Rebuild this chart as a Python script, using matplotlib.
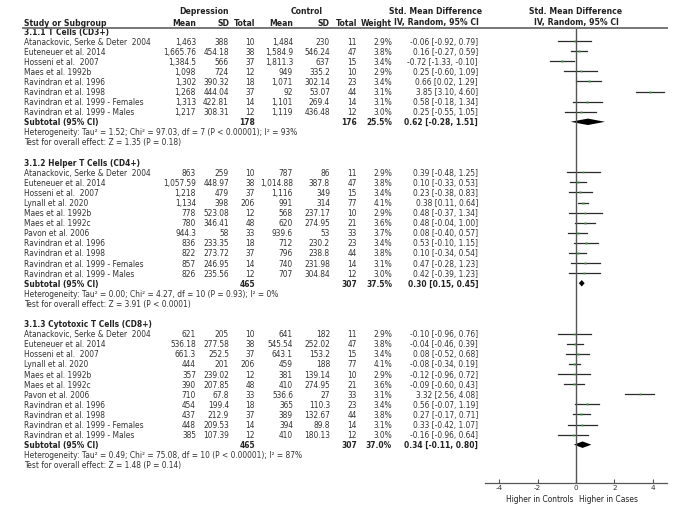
import numpy as np
import matplotlib.pyplot as plt
from matplotlib.transforms import blended_transform_factory
from matplotlib.lines import Line2D

plt.rcParams['font.family'] = ['DejaVu Sans']

# ---- data ----
groups = ["3.1.1 T Cells (CD3+)", "3.1.2 Helper T Cells (CD4+)", "3.1.3 Cytotoxic T Cells (CD8+)"]

studies1 = ["Atanackovic, Serke & Deter  2004", "Euteneuer et al. 2014", "Hosseni et al.  2007",
            "Maes et al. 1992b", "Ravindran et al. 1996", "Ravindran et al. 1998",
            "Ravindran et al. 1999 - Females", "Ravindran et al. 1999 - Males"]
dep_mean1 = ["1,463", "1,665.76", "1,384.5", "1,098", "1,302", "1,268", "1,313", "1,217"]
dep_sd1 = ["388", "454.18", "566", "724", "390.32", "444.04", "422.81", "308.31"]
dep_n1 = [10, 38, 37, 12, 18, 37, 14, 12]
ctl_mean1 = ["1,484", "1,584.9", "1,811.3", "949", "1,071", "92", "1,101", "1,119"]
ctl_sd1 = ["230", "546.24", "637", "335.2", "302.14", "53.07", "269.4", "436.48"]
ctl_n1 = [11, 47, 15, 10, 23, 44, 14, 12]
weight1 = [2.9, 3.8, 3.4, 2.9, 3.4, 3.1, 3.1, 3.0]
smd1 = [-0.06, 0.16, -0.72, 0.25, 0.66, 3.85, 0.58, 0.25]
lo1 = [-0.92, -0.27, -1.33, -0.60, 0.02, 3.10, -0.18, -0.55]
hi1 = [0.79, 0.59, -0.10, 1.09, 1.29, 4.60, 1.34, 1.05]

studies2 = ["Atanackovic, Serke & Deter  2004", "Euteneuer et al. 2014", "Hosseni et al.  2007",
            "Lynall et al. 2020", "Maes et al. 1992b", "Maes et al. 1992c", "Pavon et al. 2006",
            "Ravindran et al. 1996", "Ravindran et al. 1998",
            "Ravindran et al. 1999 - Females", "Ravindran et al. 1999 - Males"]
dep_mean2 = ["863", "1,057.59", "1,218", "1,134", "778", "780", "944.3", "836", "822", "857", "826"]
dep_sd2 = ["259", "448.97", "479", "398", "523.08", "346.41", "58", "233.35", "273.72", "246.95", "235.56"]
dep_n2 = [10, 38, 37, 206, 12, 48, 33, 18, 37, 14, 12]
ctl_mean2 = ["787", "1,014.88", "1,116", "991", "568", "620", "939.6", "712", "796", "740", "707"]
ctl_sd2 = ["86", "387.8", "349", "314", "237.17", "274.95", "53", "230.2", "238.8", "231.98", "304.84"]
ctl_n2 = [11, 47, 15, 77, 10, 21, 33, 23, 44, 14, 12]
weight2 = [2.9, 3.8, 3.4, 4.1, 2.9, 3.6, 3.7, 3.4, 3.8, 3.1, 3.0]
smd2 = [0.39, 0.10, 0.23, 0.38, 0.48, 0.48, 0.08, 0.53, 0.10, 0.47, 0.42]
lo2 = [-0.48, -0.33, -0.38, 0.11, -0.37, -0.04, -0.40, -0.10, -0.34, -0.28, -0.39]
hi2 = [1.25, 0.53, 0.83, 0.64, 1.34, 1.00, 0.57, 1.15, 0.54, 1.23, 1.23]

studies3 = studies2
dep_mean3 = ["621", "536.18", "661.3", "444", "357", "390", "710", "454", "437", "448", "385"]
dep_sd3 = ["205", "277.58", "252.5", "201", "239.02", "207.85", "67.8", "199.4", "212.9", "209.53", "107.39"]
dep_n3 = [10, 38, 37, 206, 12, 48, 33, 18, 37, 14, 12]
ctl_mean3 = ["641", "545.54", "643.1", "459", "381", "410", "536.6", "365", "389", "394", "410"]
ctl_sd3 = ["182", "252.02", "153.2", "188", "139.14", "274.95", "27", "110.3", "132.67", "89.8", "180.13"]
ctl_n3 = [11, 47, 15, 77, 10, 21, 33, 23, 44, 14, 12]
weight3 = [2.9, 3.8, 3.4, 4.1, 2.9, 3.6, 3.1, 3.4, 3.8, 3.1, 3.0]
smd3 = [-0.10, -0.04, 0.08, -0.08, -0.12, -0.09, 3.32, 0.56, 0.27, 0.33, -0.16]
lo3 = [-0.96, -0.46, -0.52, -0.34, -0.96, -0.60, 2.56, -0.07, -0.17, -0.42, -0.96]
hi3 = [0.76, 0.39, 0.68, 0.19, 0.72, 0.43, 4.08, 1.19, 0.71, 1.07, 0.64]

sub_dep_n = [178, 465, 465]
sub_ctl_n = [176, 307, 307]
sub_weight = [25.5, 37.5, 37.0]
sub_smd = [0.62, 0.30, 0.34]
sub_lo = [-0.28, 0.15, -0.11]
sub_hi = [1.51, 0.45, 0.80]
heterogeneity = ["Heterogeneity: Tau² = 1.52; Chi² = 97.03, df = 7 (P < 0.00001); I² = 93%",
                 "Heterogeneity: Tau² = 0.00; Chi² = 4.27, df = 10 (P = 0.93); I² = 0%",
                 "Heterogeneity: Tau² = 0.49; Chi² = 75.08, df = 10 (P < 0.00001); I² = 87%"]
overall = ["Test for overall effect: Z = 1.35 (P = 0.18)",
           "Test for overall effect: Z = 3.91 (P < 0.0001)",
           "Test for overall effect: Z = 1.48 (P = 0.14)"]
xticks = [-4, -2, 0, 2, 4]

tables = [
    (studies1, dep_mean1, dep_sd1, dep_n1, ctl_mean1, ctl_sd1, ctl_n1, weight1, smd1, lo1, hi1),
    (studies2, dep_mean2, dep_sd2, dep_n2, ctl_mean2, ctl_sd2, ctl_n2, weight2, smd2, lo2, hi2),
    (studies3, dep_mean3, dep_sd3, dep_n3, ctl_mean3, ctl_sd3, ctl_n3, weight3, smd3, lo3, hi3),
]

# ---- layout ----
W, H = 700, 510
fig = plt.figure(figsize=(7, 5.1), dpi=100)
pitch = 10.09
row0 = 32.0
top_px, bot_px = 29, 484
ax = fig.add_axes([485 / W, 1 - bot_px / H, (667 - 485) / W, (bot_px - top_px) / H])
ax.set_xlim(-4.74, 4.74)
ax.set_ylim((bot_px - row0) / pitch, (top_px - row0) / pitch)

tr = blended_transform_factory(fig.transFigure, ax.transData)
fs = 5.45
tcol = '#333333'


def px(x):
    return x / W


def cell(x, y, s, ha='right', bold=False, color=tcol):
    ax.text(px(x), y, s, transform=tr, ha=ha, va='center', fontsize=fs,
            fontweight='bold' if bold else 'normal', color=color, clip_on=False)


# column right edges
c_dm, c_dsd, c_dn, c_cm, c_csd, c_cn, c_w, c_ci = 196, 229, 255, 293, 330, 357, 392, 478

# headers
def head(x, ypx, s, ha):
    fig.text(px(x), 1 - ypx / H, s, ha=ha, va='center', fontsize=fs + 0.1, fontweight='bold', color='#222222')

head(204, 12, "Depression", 'center')
head(307, 12, "Control", 'center')
head(436, 12, "Std. Mean Difference", 'center')
head(576, 12, "Std. Mean Difference", 'center')
head(24, 23, "Study or Subgroup", 'left')
for x, s in [(c_dm, "Mean"), (c_dsd, "SD"), (c_dn, "Total"), (c_cm, "Mean"),
             (c_csd, "SD"), (c_cn, "Total"), (c_w, "Weight")]:
    head(x, 23, s, 'right')
head(436, 23, "IV, Random, 95% CI", 'center')
head(576, 23, "IV, Random, 95% CI", 'center')
fig.add_artist(Line2D([px(23), px(667)], [1 - 29 / H, 1 - 29 / H], color='#777777', lw=1.4))

# rows
r = 0
for g, tab in enumerate(tables):
    studies, dm, dsd, dn, cm, csd, cn, wt, smd, lo, hi = tab
    cell(24, r, groups[g], ha='left', bold=True, color='#222222')
    r += 1
    for i in range(len(studies)):
        cell(24, r, studies[i], ha='left')
        cell(c_dm, r, dm[i])
        cell(c_dsd, r, dsd[i])
        cell(c_dn, r, str(dn[i]))
        cell(c_cm, r, cm[i])
        cell(c_csd, r, csd[i])
        cell(c_cn, r, str(cn[i]))
        cell(c_w, r, f"{wt[i]:.1f}%")
        cell(c_ci, r, f"{smd[i]:.2f} [{lo[i]:.2f}, {hi[i]:.2f}]")
        ax.plot([lo[i], hi[i]], [r, r], color='#2a2a2a', lw=0.9)
        ax.plot(smd[i], r, marker='s', ms=wt[i] * 0.45, color='#3a9a3a', mec='none')
        r += 1
    cell(24, r, "Subtotal (95% CI)", ha='left', bold=True, color='#222222')
    cell(c_dn, r, str(sub_dep_n[g]), bold=True, color='#222222')
    cell(c_cn, r, str(sub_ctl_n[g]), bold=True, color='#222222')
    cell(c_w, r, f"{sub_weight[g]:.1f}%", bold=True, color='#222222')
    cell(c_ci, r, f"{sub_smd[g]:.2f} [{sub_lo[g]:.2f}, {sub_hi[g]:.2f}]", bold=True, color='#222222')
    ax.fill([sub_lo[g], sub_smd[g], sub_hi[g], sub_smd[g]], [r, r - 0.32, r, r + 0.32],
            color='black', lw=0)
    r += 1
    cell(24, r, heterogeneity[g], ha='left')
    r += 1
    cell(24, r, overall[g], ha='left')
    r += 2

# axis
ax.axvline(0, color='#555555', lw=1.0)
for s in ['top', 'right', 'left']:
    ax.spines[s].set_visible(False)
ax.spines['bottom'].set_color('#555555')
ax.spines['bottom'].set_linewidth(0.9)
ax.set_yticks([])
ax.set_xticks(xticks)
ax.set_xticklabels([str(t) for t in xticks])
ax.tick_params(axis='x', direction='in', length=3, width=0.8, color='#555555',
               labelsize=5.2, labelcolor=tcol, pad=0.5)
fig.text(px(573), 1 - 500 / H, "Higher in Controls", ha='right', va='center', fontsize=fs, color='#222222')
fig.text(px(579), 1 - 500 / H, "Higher in Cases", ha='left', va='center', fontsize=fs, color='#222222')

fig.savefig("out.png", dpi=100, facecolor='white')
